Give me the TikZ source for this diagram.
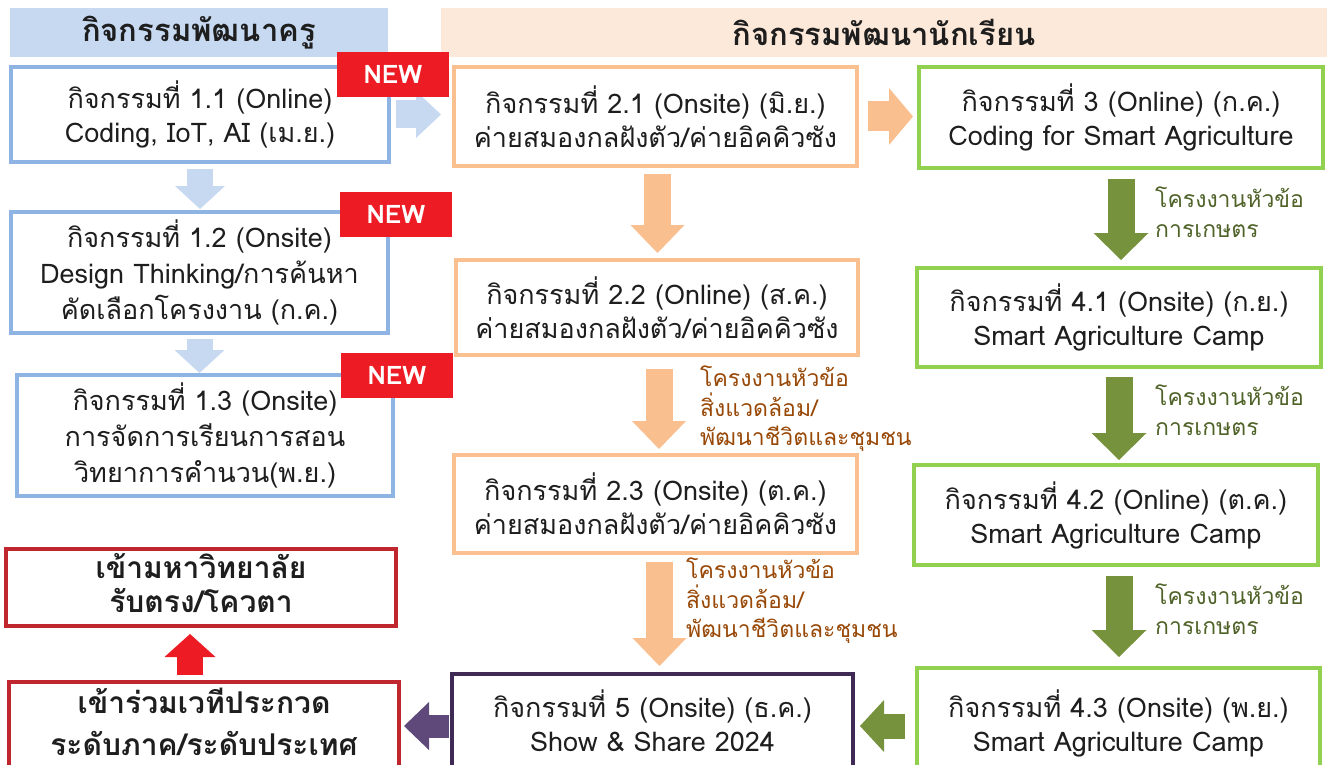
\documentclass[tikz,border=0pt]{standalone}
\usepackage{fontspec}
\setmainfont{Loma}[Script=Thai]
\usetikzlibrary{arrows.meta}
\definecolor{hdBlue}{HTML}{C6D9F1}
\definecolor{hdPeach}{HTML}{FDE9D9}
\definecolor{lnBlue}{HTML}{8DB4E2}
\definecolor{lnOrange}{HTML}{FAC090}
\definecolor{lnGreen}{HTML}{92D050}
\definecolor{lnRed}{HTML}{C0262D}
\definecolor{lnPurple}{HTML}{3F2A56}
\definecolor{arBlue}{HTML}{C6D9F1}
\definecolor{arOrange}{HTML}{FABF8F}
\definecolor{arGreen}{HTML}{76923C}
\definecolor{arPurple}{HTML}{5F497A}
\definecolor{arRed}{HTML}{ED1C24}
\definecolor{txGreen}{HTML}{4F6228}
\definecolor{txBrown}{HTML}{984807}
\definecolor{txDark}{HTML}{1E1E1E}
\newcommand{\lift}[2]{\raisebox{#1}{\begin{tabular}{@{}c@{}}#2\end{tabular}}}
\tikzset{
  box/.style={rectangle, draw=#1, line width=4pt, fill=white, align=center,
    inner sep=0pt, text=txDark, font=\fontsize{27}{34}\selectfont},
  bigbox/.style={box=lnRed, font=\fontsize{30}{31}\selectfont\bfseries},
  header/.style={rectangle, fill=#1, inner sep=0pt, text=txDark,
    font=\fontsize{31}{32}\selectfont\bfseries},
  newtag/.style={rectangle, fill=arRed, inner sep=0pt, text=white,
    minimum width=112pt, minimum height=45pt, font=\fontsize{25.5}{27}\selectfont\bfseries},
  note/.style={anchor=west, align=left, inner sep=0pt, text=#1,
    font=\fontsize{23}{29.5}\selectfont},
  fat/.style n args={4}{draw=#1, line width=#2,
    -{Triangle[width=#3, length=#4, line width=0pt 0 0]}}
}
\begin{document}
\begin{tikzpicture}[x=1pt, y=-1pt]
  \useasboundingbox (0,0) rectangle (1331,765);
  \node[header=hdBlue, minimum width=378pt, minimum height=49pt] (hT) at (199,32.5) {\raisebox{-5pt}{กิจกรรมพัฒนาครู}};
  \node[header=hdPeach, minimum width=886pt, minimum height=49pt] (hS) at (884,32.5) {\raisebox{-5pt}{กิจกรรมพัฒนานักเรียน}};

  \node[box=lnBlue, minimum width=378pt, minimum height=95pt] (a11) at (200,114.5)
    {กิจกรรมที่ 1.1 (Online)\\Coding, IoT, AI (เม.ย.)};
  \node[box=lnBlue, minimum width=377pt, minimum height=121pt, font=\fontsize{27}{36}\selectfont] (a12) at (199.5,272.5)
    {กิจกรรมที่ 1.2 (Onsite)\\Design Thinking/การค้นหา\\คัดเลือกโครงงาน (ก.ค.)};
  \node[box=lnBlue, minimum width=376pt, minimum height=121pt, font=\fontsize{27}{36}\selectfont] (a13) at (205,435.5)
    {กิจกรรมที่ 1.3 (Onsite)\\การจัดการเรียนการสอน\\วิทยาการคำนวน(พ.ย.)};

  \node[box=lnOrange, minimum width=403pt, minimum height=99pt] (a21) at (655.5,116.5)
    {กิจกรรมที่ 2.1 (Onsite) (มิ.ย.)\\ค่ายสมองกลฝังตัว/ค่ายอิคคิวซัง};
  \node[box=lnOrange, minimum width=402pt, minimum height=95pt] (a22) at (657,307.5)
    {กิจกรรมที่ 2.2 (Online) (ส.ค.)\\ค่ายสมองกลฝังตัว/ค่ายอิคคิวซัง};
  \node[box=lnOrange, minimum width=403pt, minimum height=98pt] (a23) at (655.5,504)
    {กิจกรรมที่ 2.3 (Onsite) (ต.ค.)\\ค่ายสมองกลฝังตัว/ค่ายอิคคิวซัง};

  \node[box=lnGreen, minimum width=404pt, minimum height=101pt] (a3) at (1121,117.5)
    {กิจกรรมที่ 3 (Online) (ก.ค.)\\Coding for Smart Agriculture};
  \node[box=lnGreen, minimum width=404pt, minimum height=99pt] (a41) at (1119,317.5)
    {กิจกรรมที่ 4.1 (Onsite) (ก.ย.)\\Smart Agriculture Camp};
  \node[box=lnGreen, minimum width=404pt, minimum height=100pt] (a42) at (1116,515)
    {กิจกรรมที่ 4.2 (Online) (ต.ค.)\\Smart Agriculture Camp};
  \node[box=lnGreen, minimum width=403pt, minimum height=116pt] (a43) at (1118.5,726)
    {\lift{7pt}{กิจกรรมที่ 4.3 (Onsite) (พ.ย.)\\Smart Agriculture Camp}};

  \node[box=lnPurple, minimum width=401pt, minimum height=104pt] (a5) at (652.5,726)
    {\lift{7pt}{กิจกรรมที่ 5 (Onsite) (ธ.ค.)\\Show \& Share 2024}};
  \node[bigbox, font=\fontsize{30}{42}\selectfont\bfseries, minimum width=390pt, minimum height=88pt] (contest) at (204,726)
    {\lift{3pt}{เข้าร่วมเวทีประกวด\\ระดับภาค/ระดับประเทศ}};
  \node[bigbox, minimum width=390pt, minimum height=77pt] (uni) at (201,587.5)
    {\lift{3pt}{เข้ามหาวิทยาลัย\\รับตรง/โควตา}};

  \draw[fat={arBlue}{26pt}{50pt}{23pt}, shorten <=5pt, shorten >=1pt] (a11.south) -- (a11.south |- a12.north);
  \draw[fat={arBlue}{26pt}{50pt}{23pt}, shorten <=4pt] (a12.south) -- (a12.south |- a13.north);
  \draw[fat={arBlue}{28pt}{47pt}{25pt}, shorten <=5pt, shorten >=11pt] (a11.east) -- (a11.east -| a21.west);
  \draw[fat={arOrange}{30pt}{57pt}{24pt}, shorten <=9pt, shorten >=4pt] (a21.east) -- (a21.east -| a3.west);
  \draw[fat={arOrange}{27pt}{54pt}{28pt}, shorten <=6pt, shorten >=5pt] ([xshift=2pt]a21.south) -- ([xshift=2pt]a21.south |- a22.north);
  \draw[fat={arOrange}{27pt}{54pt}{28pt}, shorten <=12pt, shorten >=4pt] ([xshift=2pt]a22.south) -- ([xshift=2pt]a22.south |- a23.north);
  \draw[fat={arOrange}{27pt}{54pt}{28pt}, shorten <=7pt, shorten >=6pt] ([xshift=4pt]a23.south) -- ([xshift=4pt]a23.south |- a5.north);
  \draw[fat={arGreen}{27pt}{55pt}{27pt}, shorten <=9pt, shorten >=6pt] (a3.south) -- (a3.south |- a41.north);
  \draw[fat={arGreen}{27pt}{55pt}{27pt}, shorten <=8pt, shorten >=3pt] (a41.south) -- (a41.south |- a42.north);
  \draw[fat={arGreen}{27pt}{55pt}{27pt}, shorten <=9pt, shorten >=9pt] ([xshift=3pt]a42.south) -- ([xshift=3pt]a42.south |- a43.north);
  \draw[fat={arGreen}{25pt}{52pt}{24pt}, shorten <=10pt, shorten >=5pt] (a43.west) -- (a5.east);
  \draw[fat={arPurple}{23pt}{48pt}{25pt}, shorten <=1pt, shorten >=3pt] (a5.west) -- (contest.east);
  \draw[fat={arRed}{26pt}{51pt}{23pt}, shorten <=5pt, shorten >=6pt] ([xshift=-14pt]contest.north) -- ([xshift=-14pt]contest.north |- uni.south);

  \node[note=txBrown] (t22) at (700,409) {โครงงานหัวข้อ\\สิ่งแวดล้อม/\\พัฒนาชีวิตและชุมชน};
  \node[note=txBrown] (t23) at (686,601) {โครงงานหัวข้อ\\สิ่งแวดล้อม/\\พัฒนาชีวิตและชุมชน};
  \node[note=txGreen] (t41) at (1155,212) {โครงงานหัวข้อ\\การเกษตร};
  \node[note=txGreen] (t42) at (1155,410) {โครงงานหัวข้อ\\การเกษตร};
  \node[note=txGreen] (t43) at (1155,609) {โครงงานหัวข้อ\\การเกษตร};

  \node[newtag] (n1) at (393,74.5) {NEW};
  \node[newtag] (n2) at (396,214.5) {NEW};
  \node[newtag] (n3) at (397,375.5) {NEW};
\end{tikzpicture}
\end{document}
